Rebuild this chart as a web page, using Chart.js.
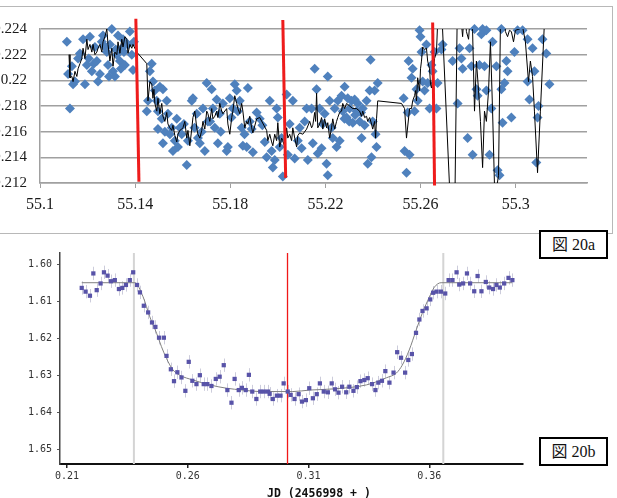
<!DOCTYPE html>
<html><head><meta charset="utf-8">
<script src="https://cdn.jsdelivr.net/npm/chart.js@4"></script>
<style>
html,body{margin:0;padding:0;background:#fff;width:617px;height:498px;overflow:hidden;position:relative;}
#frameA{position:absolute;left:-16px;top:6px;width:629px;height:228px;border:1px solid #b8b8b8;box-sizing:border-box;}
#cA{position:absolute;left:0;top:0;}
#cB{position:absolute;left:0;top:240px;}
.tag{position:absolute;left:539px;width:69px;height:29px;border:2px solid #000;box-sizing:border-box;background:#fff;font:16px "Liberation Serif","Noto Sans CJK JP",serif;text-align:center;line-height:25px;color:#111;}
#xtitleB{position:absolute;left:267px;top:486px;font:bold 11.5px "DejaVu Sans Mono",monospace;color:#111;white-space:pre;}
</style>
</head><body>
<div id="frameA"><canvas id="cA" width="627" height="226"></canvas></div>
<canvas id="cB" width="617" height="258"></canvas>
<div class="tag" style="top:230px">図 20a</div>
<div class="tag" style="top:437px">図 20b</div>
<div id="xtitleB">JD (2456998 + )</div>
<script>
// ---------- 図 20a ----------
const xTicksA = [55.1, 55.14, 55.18, 55.22, 55.26, 55.3];
const yTicksA = [10.212, 10.214, 10.216, 10.218, 10.22, 10.222, 10.224];

const fluxPoints = [
[55.1113,10.2230],[55.1126,10.2178],[55.1118,10.2205],[55.1134,10.2211],[55.1139,10.2197],[55.1147,10.2199],[55.1160,10.2217],[55.1168,10.2221],
[55.1181,10.2232],[55.1189,10.2197],[55.1197,10.2212],[55.1205,10.2217],[55.1210,10.2234],[55.1218,10.2207],[55.1226,10.2213],[55.1231,10.2226],
[55.1239,10.2215],[55.1244,10.2199],[55.1252,10.2205],[55.1260,10.2230],[55.1265,10.2235],[55.1273,10.2226],[55.1281,10.2222],[55.1286,10.2212],
[55.1290,10.2203],[55.1294,10.2228],[55.1302,10.2240],[55.1307,10.2207],[55.1315,10.2203],[55.1318,10.2224],[55.1323,10.2220],[55.1328,10.2235],
[55.1336,10.2215],[55.1340,10.2209],[55.1344,10.2225],[55.1349,10.2232],[55.1353,10.2222],[55.1357,10.2212],[55.1362,10.2229],[55.1370,10.2228],
[55.1378,10.2238],[55.1386,10.2220],[55.1391,10.2208],[55.1395,10.2230],
[55.1449,10.2176],[55.1454,10.2184],[55.1462,10.2207],[55.1470,10.2213],[55.1475,10.2199],[55.1483,10.2192],[55.1491,10.2184],[55.1496,10.2176],
[55.1496,10.2162],[55.1504,10.2195],[55.1512,10.2170],[55.1517,10.2193],[55.1517,10.2151],[55.1525,10.2160],[55.1533,10.2184],[55.1538,10.2174],
[55.1546,10.2158],[55.1554,10.2163],[55.1559,10.2145],[55.1567,10.2153],[55.1575,10.2170],[55.1580,10.2148],[55.1588,10.2163],[55.1596,10.2158],
[55.1605,10.2166],[55.1617,10.2134],[55.1622,10.2153],[55.1638,10.2184],[55.1643,10.2186],[55.1650,10.2163],[55.1659,10.2174],[55.1664,10.2155],
[55.1672,10.2151],[55.1680,10.2160],[55.1685,10.2178],[55.1693,10.2145],[55.1701,10.2198],[55.1706,10.2168],[55.1715,10.2168],[55.1722,10.2193],
[55.1727,10.2178],[55.1735,10.2163],[55.1743,10.2185],[55.1748,10.2151],[55.1756,10.2174],[55.1760,10.2160],[55.1769,10.2182],[55.1785,10.2145],
[55.1790,10.2148],[55.1798,10.2186],[55.1805,10.2171],[55.1811,10.2178],[55.1819,10.2197],[55.1827,10.2192],[55.1832,10.2176],[55.1840,10.2184],
[55.1848,10.2163],[55.1853,10.2149],[55.1860,10.2158],[55.1869,10.2148],[55.1874,10.2194],[55.1882,10.2168],[55.1890,10.2162],[55.1895,10.2144],
[55.1911,10.2175],[55.1924,10.2170],[55.1935,10.2165],[55.1945,10.2152],[55.1953,10.2140],[55.1966,10.2184],[55.1974,10.2145],[55.1979,10.2132],
[55.1987,10.2138],[55.1995,10.2178],[55.2000,10.2171],[55.2008,10.2148],[55.2016,10.2155],[55.2021,10.2125],
[55.2037,10.2189],[55.2042,10.2142],[55.2050,10.2166],[55.2063,10.2184],[55.2071,10.2139],[55.2084,10.2153],[55.2092,10.2163],[55.2100,10.2147],
[55.2113,10.2168],[55.2121,10.2178],[55.2126,10.2138],[55.2142,10.2178],[55.2147,10.2151],[55.2155,10.2209],[55.2163,10.2193],[55.2168,10.2143],
[55.2176,10.2178],[55.2184,10.2147],[55.2189,10.2166],[55.2197,10.2174],[55.2205,10.2135],[55.2210,10.2203],[55.2210,10.2126],[55.2218,10.2184],
[55.2226,10.2163],[55.2231,10.2155],[55.2239,10.2178],[55.2247,10.2148],[55.2252,10.2184],[55.2260,10.2153],[55.2268,10.2188],[55.2273,10.2176],
[55.2280,10.2170],[55.2281,10.2195],[55.2289,10.2171],[55.2294,10.2186],[55.2300,10.2168],[55.2302,10.2178],[55.2310,10.2184],[55.2315,10.2167],
[55.2323,10.2185],[55.2325,10.2173],[55.2331,10.2176],[55.2336,10.2182],[55.2344,10.2168],[55.2350,10.2175],[55.2352,10.2155],[55.2357,10.2178],
[55.2365,10.2165],[55.2373,10.2184],[55.2378,10.2135],[55.2386,10.2192],[55.2390,10.2216],[55.2394,10.2140],[55.2399,10.2168],[55.2407,10.2192],
[55.2411,10.2158],[55.2415,10.2148],[55.2420,10.2198],
[55.2529,10.2186],[55.2533,10.2145],[55.2541,10.2128],[55.2546,10.2175],[55.2550,10.2215],[55.2554,10.2142],[55.2562,10.2202],[55.2567,10.2209],
[55.2575,10.2176],[55.2583,10.2193],[55.2588,10.2184],[55.2596,10.2239],[55.2600,10.2234],[55.2604,10.2222],[55.2609,10.2199],[55.2617,10.2192],
[55.2625,10.2228],[55.2630,10.2198],[55.2638,10.2178],[55.2646,10.2212],[55.2651,10.2207],[55.2659,10.2222],[55.2667,10.2178],[55.2672,10.2198],
[55.2688,10.2224],[55.2693,10.2228],
[55.2735,10.2215],[55.2756,10.2182],[55.2764,10.2225],[55.2772,10.2217],[55.2777,10.2209],[55.2798,10.2155],[55.2806,10.2225],[55.2814,10.2211],
[55.2819,10.2142],[55.2827,10.2240],[55.2835,10.2193],[55.2840,10.2188],[55.2848,10.2212],[55.2856,10.2236],[55.2861,10.2240],[55.2869,10.2211],
[55.2877,10.2192],[55.2877,10.2239],[55.2890,10.2142],[55.2898,10.2178],[55.2903,10.2230],[55.2919,10.2211],[55.2924,10.2130],[55.2932,10.2126],
[55.2940,10.2193],[55.2940,10.2240],[55.2945,10.2167],[55.2953,10.2198],[55.2961,10.2215],[55.2966,10.2207],[55.2982,10.2171],[55.2995,10.2222],
[55.3008,10.2239],[55.3029,10.2239],[55.3050,10.2232],[55.3050,10.2199],[55.3058,10.2185],[55.3071,10.2225],[55.3079,10.2207],[55.3087,10.2136],
[55.3092,10.2171],[55.3096,10.2180],[55.3113,10.2232],[55.3129,10.2221],[55.3142,10.2197]
];

const trendLine = [
[55.1122,10.2220],[55.1126,10.2202],[55.1134,10.2203],[55.1139,10.2199],[55.1147,10.2207],[55.1155,10.2203],[55.1160,10.2209],[55.1168,10.2213],
[55.1176,10.2217],[55.1181,10.2225],[55.1189,10.2217],[55.1197,10.2232],[55.1202,10.2224],[55.1210,10.2228],[55.1218,10.2222],[55.1223,10.2228],
[55.1231,10.2220],[55.1239,10.2222],[55.1244,10.2225],[55.1252,10.2228],[55.1260,10.2222],[55.1265,10.2230],[55.1273,10.2234],[55.1281,10.2240],
[55.1286,10.2228],[55.1294,10.2215],[55.1302,10.2225],[55.1307,10.2211],[55.1315,10.2222],[55.1323,10.2220],[55.1328,10.2230],[55.1336,10.2221],
[55.1344,10.2232],[55.1349,10.2226],[55.1357,10.2234],[55.1365,10.2232],[55.1370,10.2221],[55.1378,10.2228],[55.1386,10.2225],[55.1391,10.2228],
[55.1407,10.2222],[55.1449,10.2213],[55.1454,10.2184],[55.1462,10.2199],[55.1470,10.2197],[55.1475,10.2186],[55.1479,10.2193],[55.1483,10.2182],
[55.1491,10.2176],[55.1496,10.2186],[55.1504,10.2174],[55.1512,10.2182],[55.1517,10.2172],[55.1525,10.2168],[55.1533,10.2175],[55.1538,10.2166],
[55.1546,10.2163],[55.1554,10.2161],[55.1559,10.2165],[55.1567,10.2157],[55.1575,10.2152],[55.1580,10.2158],[55.1588,10.2161],[55.1596,10.2162],
[55.1601,10.2163],[55.1609,10.2168],[55.1617,10.2155],[55.1622,10.2161],[55.1630,10.2149],[55.1638,10.2162],[55.1643,10.2171],[55.1651,10.2176],
[55.1659,10.2163],[55.1664,10.2158],[55.1672,10.2155],[55.1680,10.2161],[55.1685,10.2168],[55.1693,10.2162],[55.1701,10.2176],[55.1706,10.2174],
[55.1714,10.2168],[55.1722,10.2178],[55.1727,10.2170],[55.1735,10.2172],[55.1743,10.2176],[55.1748,10.2171],[55.1756,10.2182],[55.1764,10.2176],
[55.1769,10.2174],[55.1785,10.2178],[55.1790,10.2166],[55.1798,10.2158],[55.1806,10.2171],[55.1811,10.2176],[55.1819,10.2188],[55.1827,10.2182],
[55.1832,10.2178],[55.1840,10.2174],[55.1848,10.2182],[55.1853,10.2176],[55.1861,10.2163],[55.1869,10.2168],[55.1874,10.2166],[55.1882,10.2172],
[55.1890,10.2163],[55.1895,10.2159],[55.1911,10.2170],[55.1924,10.2171],[55.1953,10.2161],[55.1958,10.2153],[55.1966,10.2158],[55.1974,10.2152],
[55.1979,10.2149],[55.1987,10.2158],[55.1995,10.2153],[55.2000,10.2167],[55.2008,10.2148],[55.2016,10.2155],[55.2021,10.2153],[55.2029,10.2148],
[55.2037,10.2163],[55.2042,10.2155],[55.2050,10.2158],[55.2058,10.2153],[55.2063,10.2163],[55.2071,10.2155],[55.2079,10.2148],[55.2084,10.2157],
[55.2092,10.2159],[55.2105,10.2158],[55.2121,10.2162],[55.2134,10.2168],[55.2142,10.2163],[55.2147,10.2165],[55.2155,10.2175],[55.2159,10.2168],
[55.2163,10.2190],[55.2168,10.2163],[55.2176,10.2166],[55.2184,10.2171],[55.2189,10.2162],[55.2197,10.2170],[55.2205,10.2163],[55.2210,10.2167],
[55.2218,10.2155],[55.2226,10.2163],[55.2231,10.2170],[55.2239,10.2162],[55.2247,10.2168],[55.2252,10.2171],[55.2260,10.2175],[55.2268,10.2176],
[55.2273,10.2182],[55.2281,10.2178],[55.2289,10.2182],[55.2302,10.2180],[55.2315,10.2178],[55.2331,10.2178],[55.2344,10.2176],[55.2352,10.2172],
[55.2357,10.2176],[55.2365,10.2171],[55.2373,10.2172],[55.2378,10.2168],[55.2386,10.2171],[55.2394,10.2166],[55.2399,10.2162],[55.2407,10.2168],
[55.2411,10.2155],[55.2415,10.2170],[55.2420,10.2184],[55.2520,10.2182],[55.2533,10.2178],[55.2541,10.2155],[55.2554,10.2178],[55.2562,10.2178],
[55.2567,10.2184],[55.2575,10.2188],[55.2579,10.2192],[55.2583,10.2184],[55.2588,10.2202],[55.2596,10.2192],[55.2600,10.2209],[55.2604,10.2215],
[55.2609,10.2226],[55.2617,10.2224],[55.2625,10.2225],[55.2630,10.2215],[55.2638,10.2209],[55.2642,10.2197],[55.2646,10.2194],[55.2651,10.2202],
[55.2659,10.2217],[55.2667,10.2222],[55.2672,10.2245],[55.2684,10.2276],[55.2730,10.2084],[55.2743,10.2084],[55.2756,10.2276],[55.2768,10.2253],
[55.2777,10.2234],[55.2785,10.2257],[55.2793,10.2238],[55.2802,10.2232],[55.2810,10.2253],[55.2819,10.2238],[55.2827,10.2176],[55.2835,10.2215],
[55.2844,10.2192],[55.2852,10.2168],[55.2861,10.2132],[55.2869,10.2176],[55.2877,10.2168],[55.2886,10.2192],[55.2894,10.2230],[55.2903,10.2176],
[55.2911,10.2118],[55.2919,10.2115],[55.2928,10.2126],[55.2936,10.2245],[55.2945,10.2268],[55.2957,10.2238],[55.2966,10.2234],[55.2974,10.2239],
[55.2982,10.2238],[55.2991,10.2230],[55.2999,10.2239],[55.3016,10.2240],[55.3029,10.2242],[55.3041,10.2230],[55.3054,10.2199],[55.3062,10.2215],
[55.3071,10.2203],[55.3079,10.2176],[55.3092,10.2128],[55.3104,10.2176],[55.3121,10.2245],[55.3129,10.2276]
];

const redMarkers = [
  [[55.1403,10.2248],[55.1416,10.2121]],
  [[55.2021,10.2247],[55.2033,10.2124]],
  [[55.2651,10.2245],[55.2659,10.2118]]
];

// ---------- 図 20b ----------
const xTicksB = [0.21, 0.26, 0.31, 0.36];
const yTicksB = [1.60, 1.61, 1.62, 1.63, 1.64, 1.65];
const magErr = 0.0018;
const contactJD = [0.2377, 0.3658];
const midJD = 0.3013;

const magPoints = [
[0.2161,1.6064],[0.2177,1.6074],[0.2195,1.6085],[0.2209,1.6025],[0.2223,1.6070],[0.2239,1.6052],[0.2253,1.6022],[0.2268,1.6031],
[0.2282,1.6046],[0.2298,1.6043],[0.2315,1.6067],[0.2329,1.6064],[0.2344,1.6056],[0.2360,1.6043],[0.2374,1.6022],[0.2390,1.6056],
[0.2402,1.6076],[0.2418,1.6112],[0.2436,1.6130],[0.2452,1.6157],[0.2466,1.6169],[0.2481,1.6198],[0.2501,1.6198],[0.2512,1.6247],
[0.2530,1.6283],[0.2543,1.6315],[0.2557,1.6291],[0.2574,1.6305],[0.2590,1.6341],[0.2604,1.6263],[0.2619,1.6314],[0.2636,1.6323],
[0.2650,1.6299],[0.2666,1.6323],[0.2681,1.6323],[0.2698,1.6328],[0.2716,1.6309],[0.2732,1.6303],[0.2749,1.6272],[0.2764,1.6339],
[0.2781,1.6373],[0.2794,1.6309],[0.2811,1.6339],[0.2824,1.6333],[0.2840,1.6339],[0.2853,1.6298],[0.2867,1.6343],[0.2884,1.6363],
[0.2900,1.6343],[0.2915,1.6343],[0.2932,1.6343],[0.2939,1.6349],[0.2952,1.6363],[0.2969,1.6354],[0.2984,1.6354],[0.2997,1.6321],
[0.3014,1.6343],[0.3026,1.6352],[0.3042,1.6363],[0.3059,1.6350],[0.3073,1.6370],[0.3089,1.6366],[0.3103,1.6334],[0.3118,1.6361],
[0.3134,1.6350],[0.3147,1.6321],[0.3163,1.6343],[0.3180,1.6345],[0.3196,1.6321],[0.3210,1.6337],[0.3224,1.6346],[0.3239,1.6330],
[0.3256,1.6345],[0.3269,1.6330],[0.3286,1.6341],[0.3300,1.6331],[0.3315,1.6315],[0.3331,1.6312],[0.3345,1.6307],[0.3363,1.6323],
[0.3377,1.6339],[0.3389,1.6319],[0.3404,1.6314],[0.3418,1.6288],[0.3435,1.6319],[0.3452,1.6292],[0.3467,1.6237],[0.3483,1.6252],
[0.3500,1.6292],[0.3513,1.6258],[0.3528,1.6242],[0.3545,1.6185],[0.3559,1.6149],[0.3572,1.6126],[0.3589,1.6119],[0.3604,1.6095],
[0.3616,1.6077],[0.3630,1.6074],[0.3648,1.6074],[0.3666,1.6079],[0.3680,1.6043],[0.3696,1.6043],[0.3713,1.6022],[0.3724,1.6055],
[0.3740,1.6052],[0.3756,1.6025],[0.3769,1.6052],[0.3786,1.6073],[0.3800,1.6032],[0.3816,1.6073],[0.3834,1.6048],[0.3848,1.6063],
[0.3864,1.6067],[0.3878,1.6056],[0.3892,1.6063],[0.3910,1.6052],[0.3928,1.6037],[0.3944,1.6043]
];

const fitCurve = [
[0.2161,1.6050],[0.2381,1.6050],[0.2415,1.6088],[0.2443,1.6142],[0.2471,1.6186],[0.2491,1.6222],[0.2512,1.6254],[0.2539,1.6285],
[0.2567,1.6299],[0.2622,1.6312],[0.2691,1.6325],[0.2760,1.6334],[0.2828,1.6339],[0.2897,1.6343],[0.3035,1.6343],[0.3104,1.6339],
[0.3199,1.6336],[0.3340,1.6325],[0.3422,1.6306],[0.3464,1.6293],[0.3488,1.6272],[0.3517,1.6231],[0.3546,1.6177],[0.3571,1.6132],
[0.3600,1.6089],[0.3621,1.6062],[0.3649,1.6050],[0.3943,1.6050]
];

const yMinB = 1.597, yMaxB = 1.6538;
const toXY = arr => arr.map(([x, y]) => ({x, y}));
const fixTicks = list => axis => { axis.ticks = list.map(v => ({value: v})); };

Chart.defaults.animation = false;

new Chart(document.getElementById('cA'), {
  type: 'scatter',
  data: { datasets: [
    ...redMarkers.map(seg => ({ type: 'line', data: toXY(seg), borderColor: '#ee1c1c', borderWidth: 3, pointRadius: 0, clip: false, tension: 0 })),
    { type: 'line', data: toXY(trendLine), borderColor: '#000', borderWidth: 1, pointRadius: 0, tension: 0 },
    { data: toXY(fluxPoints), pointStyle: 'rectRot', radius: 5, backgroundColor: '#4f81bd', borderWidth: 0, clip: false }
  ]},
  options: {
    responsive: false, animation: false, events: [],
    plugins: { legend: { display: false }, tooltip: { enabled: false } },
    layout: { padding: { top: 20, right: 25, left: 0, bottom: 0 } },
    scales: {
      x: { type: 'linear', min: 55.1, max: 55.33, afterBuildTicks: fixTicks(xTicksA), afterFit: s => { s.height = 50; },
        grid: { display: true, drawOnChartArea: false, drawTicks: true, tickLength: 5, color: '#a0a0a0', lineWidth: 1 },
        border: { color: '#a0a0a0', width: 1.5 },
        ticks: { font: { family: 'Liberation Serif', size: 16 }, color: '#1a1a1a', padding: 7, maxRotation: 0, autoSkip: false,
          callback: v => String(+(+v).toFixed(2)) } },
      y: { type: 'linear', min: 10.212, max: 10.224, afterBuildTicks: fixTicks(yTicksA), afterFit: s => { s.width = 55; },
        grid: { color: '#a0a0a0', lineWidth: 1.5, drawTicks: false },
        border: { color: '#a0a0a0', width: 1.5 },
        ticks: { padding: 13, font: { family: 'Liberation Serif', size: 15 }, color: '#1a1a1a', autoSkip: false,
          callback: v => String(+(+v).toFixed(3)) } }
    }
  }
});

const errorBars = {
  id: 'errorBars',
  beforeDatasetsDraw(chart) {
    const { ctx, scales: { x, y } } = chart;
    ctx.save();
    ctx.strokeStyle = 'rgba(170,170,195,0.6)';
    ctx.lineWidth = 1;
    magPoints.forEach(([jd, m]) => {
      const px = Math.round(x.getPixelForValue(jd)) + 0.5;
      ctx.beginPath();
      ctx.moveTo(px, y.getPixelForValue(m - magErr));
      ctx.lineTo(px, y.getPixelForValue(m + magErr));
      ctx.stroke();
    });
    ctx.restore();
  }
};

const vLine = v => [{x: v, y: yMinB}, {x: v, y: yMaxB}];

new Chart(document.getElementById('cB'), {
  type: 'scatter',
  data: { datasets: [
    { data: toXY(magPoints), pointStyle: 'rect', radius: 3, backgroundColor: '#5853a8', borderWidth: 0, clip: false },
    { type: 'line', data: toXY(fitCurve), borderColor: '#808080', borderWidth: 1, pointRadius: 0, cubicInterpolationMode: 'monotone' },
    { type: 'line', data: vLine(midJD), borderColor: '#f01818', borderWidth: 1.3, pointRadius: 0 },
    ...contactJD.map(v => ({ type: 'line', data: vLine(v), borderColor: '#d4d4d4', borderWidth: 2, pointRadius: 0 }))
  ]},
  plugins: [errorBars],
  options: {
    responsive: false, animation: false, events: [],
    plugins: { legend: { display: false }, tooltip: { enabled: false } },
    layout: { padding: { top: 13, right: 94, left: 0, bottom: 0 } },
    scales: {
      x: { type: 'linear', min: 0.2071, max: 0.3988, afterBuildTicks: fixTicks(xTicksB), afterFit: s => { s.height = 34; },
        grid: { display: true, drawOnChartArea: false, drawTicks: true, tickLength: 4, color: '#222', lineWidth: 1.5 },
        border: { color: '#111', width: 2 },
        ticks: { font: { family: 'DejaVu Sans Mono', size: 10 }, color: '#333', padding: 2, maxRotation: 0, autoSkip: false,
          callback: v => (+v).toFixed(2) } },
      y: { type: 'linear', reverse: true, min: yMinB, max: yMaxB, afterBuildTicks: fixTicks(yTicksB), afterFit: s => { s.width = 60; },
        grid: { display: true, drawOnChartArea: false, drawTicks: true, tickLength: 3, color: '#555', lineWidth: 1 },
        border: { color: '#444', width: 1.5 },
        ticks: { font: { family: 'DejaVu Sans Mono', size: 10 }, color: '#333', padding: 5, autoSkip: false,
          callback: v => (+v).toFixed(2) } }
    }
  }
});
</script>
</body></html>
